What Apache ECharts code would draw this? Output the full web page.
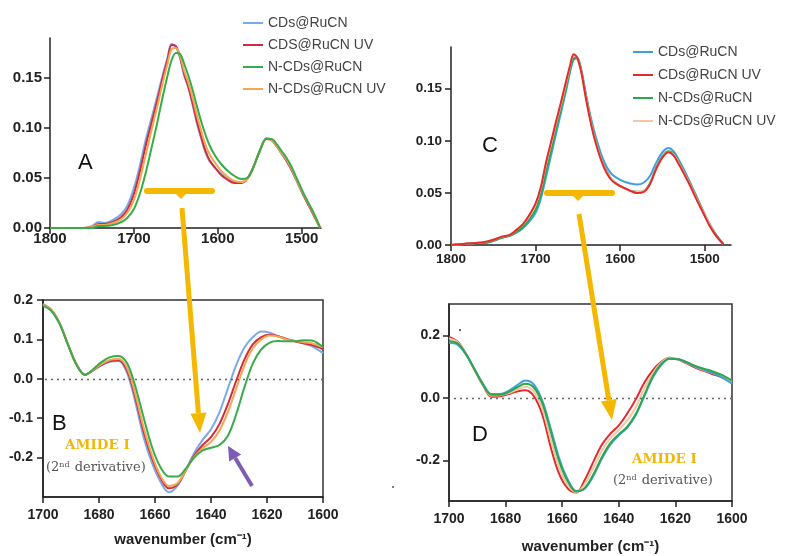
<!DOCTYPE html>
<html><head><meta charset="utf-8">
<script src="https://cdn.jsdelivr.net/npm/echarts@6/dist/echarts.min.js"></script>
<style>html,body{margin:0;padding:0;background:#fff}#c{width:790px;height:556px}</style>
</head><body><div id="c"></div>
<script>
// ---------- DATA ----------
const namesAB = ['CDs@RuCN', 'CDS@RuCN UV', 'N-CDs@RuCN', 'N-CDs@RuCN UV'];
const namesCD = ['CDs@RuCN', 'CDs@RuCN UV', 'N-CDs@RuCN', 'N-CDs@RuCN UV'];

const xTicksAC = [1800, 1700, 1600, 1500];
const yTicksAC = [0, 0.05, 0.10, 0.15];
const yTicksB = [0.2, 0.1, 0.0, -0.1, -0.2];
const yTicksD = [0.2, 0.0, -0.2];

// Panel A (absorbance)
const wnA = [1800,1780,1760,1750,1742,1735,1725,1715,1708,1700,1693,1686,1679,1672,1666,1660,1655,1650,1645,1640,1635,1630,1625,1620,1615,1610,1603,1596,1588,1580,1572,1565,1558,1550,1542,1536,1530,1524,1518,1512,1505,1498,1490,1484,1478];
const aBlue   = [0,0,0,0.002,0.006,0.005,0.008,0.014,0.022,0.040,0.062,0.088,0.110,0.132,0.152,0.170,0.184,0.181,0.170,0.152,0.140,0.123,0.105,0.090,0.076,0.067,0.060,0.054,0.049,0.046,0.045,0.049,0.060,0.077,0.090,0.088,0.082,0.074,0.067,0.058,0.045,0.033,0.020,0.010,0.000];
const aRed    = [0,0,0,0.001,0.004,0.004,0.006,0.011,0.018,0.034,0.056,0.082,0.105,0.128,0.149,0.168,0.183,0.182,0.171,0.154,0.141,0.125,0.107,0.092,0.078,0.068,0.060,0.053,0.048,0.045,0.045,0.049,0.060,0.077,0.089,0.088,0.082,0.075,0.067,0.058,0.046,0.033,0.020,0.010,0.000];
const aGreen  = [0,0,0,0.000,0.002,0.002,0.003,0.006,0.010,0.019,0.034,0.055,0.080,0.106,0.130,0.152,0.168,0.175,0.174,0.164,0.152,0.138,0.122,0.107,0.094,0.083,0.072,0.064,0.057,0.052,0.049,0.050,0.060,0.077,0.089,0.089,0.084,0.077,0.070,0.061,0.048,0.035,0.022,0.012,0.000];
const aOrange = [0,0,0,0.001,0.003,0.003,0.005,0.009,0.015,0.028,0.048,0.073,0.098,0.122,0.144,0.164,0.179,0.180,0.172,0.157,0.145,0.130,0.113,0.098,0.084,0.074,0.065,0.057,0.051,0.047,0.046,0.049,0.060,0.077,0.089,0.088,0.082,0.075,0.068,0.059,0.046,0.034,0.021,0.011,0.000];

// Panel B (2nd derivative)
const wnB = [1700,1697,1694,1691,1688,1685,1682,1679,1676,1673,1670,1667,1664,1661,1658,1655,1652,1649,1646,1643,1640,1637,1634,1631,1628,1625,1622,1619,1616,1613,1610,1607,1604,1600];
const bBlue   = [0.190,0.175,0.140,0.085,0.035,0.010,0.022,0.035,0.043,0.045,0.015,-0.060,-0.150,-0.215,-0.262,-0.288,-0.272,-0.232,-0.188,-0.155,-0.128,-0.085,-0.025,0.035,0.080,0.106,0.120,0.117,0.108,0.100,0.096,0.090,0.083,0.065];
const bRed    = [0.188,0.174,0.140,0.086,0.036,0.010,0.022,0.036,0.045,0.047,0.022,-0.048,-0.135,-0.203,-0.252,-0.278,-0.268,-0.232,-0.195,-0.168,-0.148,-0.115,-0.065,-0.005,0.050,0.088,0.106,0.112,0.108,0.101,0.095,0.090,0.086,0.075];
const bGreen  = [0.185,0.172,0.138,0.085,0.036,0.010,0.025,0.043,0.055,0.058,0.040,-0.020,-0.100,-0.175,-0.225,-0.248,-0.248,-0.228,-0.200,-0.182,-0.175,-0.168,-0.145,-0.090,-0.020,0.040,0.075,0.092,0.096,0.095,0.095,0.098,0.097,0.080];
const bOrange = [0.188,0.174,0.140,0.086,0.036,0.010,0.023,0.038,0.048,0.050,0.028,-0.040,-0.125,-0.195,-0.247,-0.272,-0.265,-0.232,-0.198,-0.176,-0.160,-0.132,-0.085,-0.025,0.035,0.078,0.100,0.110,0.107,0.100,0.096,0.093,0.090,0.080];

// Panel C (absorbance)
const wnC = [1800,1785,1770,1760,1750,1740,1730,1722,1715,1708,1700,1694,1688,1682,1676,1670,1664,1659,1655,1651,1646,1641,1636,1631,1626,1621,1616,1610,1603,1596,1588,1580,1572,1565,1558,1550,1543,1537,1531,1525,1518,1510,1502,1494,1486,1478];
const cBlue   = [0,0.001,0.002,0.002,0.004,0.007,0.009,0.012,0.016,0.022,0.031,0.044,0.064,0.085,0.106,0.127,0.148,0.167,0.178,0.179,0.168,0.147,0.127,0.110,0.096,0.084,0.075,0.068,0.064,0.061,0.059,0.058,0.060,0.066,0.078,0.089,0.093,0.090,0.082,0.073,0.061,0.047,0.033,0.020,0.009,0.001];
const cRed    = [0,0.001,0.002,0.003,0.005,0.008,0.010,0.015,0.020,0.028,0.040,0.055,0.078,0.098,0.118,0.137,0.157,0.173,0.183,0.180,0.166,0.143,0.122,0.104,0.090,0.078,0.069,0.062,0.058,0.055,0.052,0.050,0.051,0.058,0.072,0.084,0.089,0.086,0.078,0.069,0.058,0.044,0.031,0.018,0.008,0.001];
const cGreen  = [0,0.001,0.002,0.002,0.004,0.007,0.009,0.013,0.017,0.024,0.034,0.048,0.069,0.090,0.111,0.131,0.151,0.169,0.179,0.180,0.167,0.145,0.124,0.106,0.092,0.080,0.071,0.063,0.058,0.055,0.052,0.051,0.052,0.059,0.073,0.085,0.090,0.088,0.080,0.071,0.060,0.046,0.032,0.019,0.009,0.001];
const cOrange = [0,0.001,0.002,0.003,0.005,0.008,0.010,0.015,0.020,0.027,0.039,0.054,0.076,0.096,0.116,0.135,0.155,0.172,0.182,0.180,0.166,0.144,0.123,0.105,0.091,0.079,0.070,0.063,0.058,0.055,0.052,0.051,0.052,0.058,0.072,0.084,0.089,0.087,0.079,0.070,0.059,0.045,0.032,0.019,0.008,0.001];

// Panel D (2nd derivative)
const wnD = [1700,1697,1694,1691,1688,1685,1682,1679,1676,1673,1670,1667,1664,1661,1658,1655,1652,1649,1646,1643,1640,1637,1634,1631,1628,1625,1622,1619,1616,1613,1610,1607,1604,1600];
const dBlue   = [0.175,0.170,0.138,0.092,0.045,0.012,0.012,0.022,0.040,0.055,0.042,-0.010,-0.100,-0.195,-0.262,-0.298,-0.290,-0.250,-0.195,-0.150,-0.120,-0.095,-0.055,0.005,0.065,0.105,0.125,0.124,0.113,0.100,0.090,0.080,0.068,0.045];
const dRed    = [0.195,0.180,0.140,0.090,0.040,0.003,0.005,0.012,0.020,0.024,0.005,-0.055,-0.160,-0.245,-0.290,-0.303,-0.262,-0.205,-0.150,-0.115,-0.088,-0.050,-0.005,0.048,0.088,0.115,0.128,0.122,0.110,0.097,0.086,0.076,0.067,0.050];
const dGreen  = [0.182,0.174,0.140,0.091,0.043,0.010,0.010,0.018,0.033,0.045,0.033,-0.018,-0.110,-0.205,-0.268,-0.300,-0.288,-0.245,-0.190,-0.145,-0.117,-0.092,-0.052,0.008,0.068,0.108,0.125,0.123,0.114,0.102,0.093,0.085,0.075,0.055];
const dOrange = [0.190,0.178,0.140,0.090,0.042,0.007,0.008,0.015,0.026,0.035,0.020,-0.035,-0.135,-0.225,-0.280,-0.302,-0.275,-0.225,-0.170,-0.130,-0.103,-0.072,-0.030,0.028,0.078,0.112,0.127,0.123,0.112,0.100,0.089,0.080,0.070,0.052];

// ---------- STYLE ----------
const colAB = ['#79aaee', '#d42a3c', '#38ac4a', '#f4a650'];
const colCD = ['#3f9fe2', '#e5292d', '#2aa84a', '#f8c6a4'];
const FONT = '"Liberation Sans", Arial, sans-serif';
const SERIF = '"DejaVu Serif", "Liberation Serif", serif';
const INK = '#222';

function pairs(xs, ys) { return xs.map((x, i) => [x, ys[i]]); }

const axLine = { show: true, onZero: false, lineStyle: { color: INK, width: 1.5 } };
function tick(vals, len) {
  const t = { show: true, length: len, lineStyle: { color: INK, width: 1.5 } };
  if (vals) t.customValues = vals;
  return t;
}
function lbl(vals, dec, size, margin) {
  const l = { fontFamily: FONT, fontWeight: 'bold', fontSize: size, color: INK, margin,
    formatter: v => Number(v).toFixed(dec) };
  if (vals) l.customValues = vals;
  return l;
}
const nameStyle = { fontFamily: FONT, fontWeight: 'bold', fontSize: 15, color: INK };
const AXNAME = 'wavenumber (cm⁻¹)';

const grids = [
  { left: 50, top: 38, width: 271, height: 190, show: false },   // A
  { left: 43, top: 300, width: 280, height: 197, show: true, borderColor: '#333', borderWidth: 1.5 }, // B
  { left: 451, top: 47, width: 280, height: 198, show: false },  // C
  { left: 449, top: 304, width: 283, height: 197, show: true, borderColor: '#333', borderWidth: 1.5 } // D
].map(g => Object.assign(g, { containLabel: false, outerBoundsMode: 'none' }));

const xAxes = [
  { gridIndex: 0, type: 'value', inverse: true, min: 1477, max: 1800, axisLine: axLine, axisTick: tick(xTicksAC, 6), axisLabel: lbl(xTicksAC, 0, 15, 3), splitLine: { show: false } },
  { gridIndex: 1, type: 'value', inverse: true, min: 1600, max: 1700, interval: 20, axisLine: axLine, axisTick: tick(null, 6),
    axisLabel: lbl(null, 0, 14, 11), splitLine: { show: false },
    name: AXNAME, nameLocation: 'middle', nameGap: 35, nameTextStyle: nameStyle },
  { gridIndex: 2, type: 'value', inverse: true, min: 1469, max: 1800, axisLine: axLine, axisTick: tick(xTicksAC, 6), axisLabel: lbl(xTicksAC, 0, 13.5, 7), splitLine: { show: false } },
  { gridIndex: 3, type: 'value', inverse: true, min: 1600, max: 1700, interval: 20, axisLine: axLine, axisTick: tick(null, 6),
    axisLabel: lbl(null, 0, 14, 11), splitLine: { show: false },
    name: AXNAME, nameLocation: 'middle', nameGap: 38, nameTextStyle: nameStyle }
];
const yAxes = [
  { gridIndex: 0, type: 'value', min: 0, max: 0.19, axisLine: axLine, axisTick: tick(yTicksAC, 6), axisLabel: lbl(yTicksAC, 2, 15, 8), splitLine: { show: false } },
  { gridIndex: 1, type: 'value', min: -0.3, max: 0.2, axisLine: axLine, axisTick: tick(yTicksB, 6), axisLabel: lbl(yTicksB, 1, 14, 10), splitLine: { show: false } },
  { gridIndex: 2, type: 'value', min: 0, max: 0.19, axisLine: axLine, axisTick: tick(yTicksAC, 6), axisLabel: lbl(yTicksAC, 2, 13.5, 9), splitLine: { show: false } },
  { gridIndex: 3, type: 'value', min: -0.33, max: 0.3, axisLine: axLine, axisTick: tick(yTicksD, 6), axisLabel: lbl(yTicksD, 1, 14, 9), splitLine: { show: false } }
];

function line(name, idx, xs, ys, color, z) {
  return { name, type: 'line', xAxisIndex: idx, yAxisIndex: idx, data: pairs(xs, ys), smooth: 0.35,
    showSymbol: false, symbol: 'none', lineStyle: { color, width: 2 }, itemStyle: { color }, z: z || 2, silent: true };
}
const zeroLine = { silent: true, symbol: 'none', label: { show: false },
  lineStyle: { color: '#666', type: [2, 4], width: 1.3 }, data: [{ yAxis: 0 }] };

const series = [
  line(namesAB[0], 0, wnA, aBlue, colAB[0]),
  line(namesAB[1], 0, wnA, aRed, colAB[1]),
  line(namesAB[3], 0, wnA, aOrange, colAB[3]),
  line(namesAB[2], 0, wnA, aGreen, colAB[2], 3),
  Object.assign(line(namesAB[0], 1, wnB, bBlue, colAB[0]), { markLine: zeroLine }),
  line(namesAB[1], 1, wnB, bRed, colAB[1]),
  line(namesAB[3], 1, wnB, bOrange, colAB[3]),
  line(namesAB[2], 1, wnB, bGreen, colAB[2], 3),
  line(namesCD[0], 2, wnC, cBlue, colCD[0]),
  line(namesCD[2], 2, wnC, cGreen, colCD[2]),
  line(namesCD[3], 2, wnC, cOrange, colCD[3]),
  line(namesCD[1], 2, wnC, cRed, colCD[1], 3),
  Object.assign(line(namesCD[1], 3, wnD, dRed, colCD[1]), { markLine: zeroLine }),
  line(namesCD[3], 3, wnD, dOrange, colCD[3]),
  line(namesCD[0], 3, wnD, dBlue, colCD[0]),
  line(namesCD[2], 3, wnD, dGreen, colCD[2], 3)
];

function legend(names, cols, left, top, gap) {
  return { orient: 'vertical', left, top, padding: 0, itemWidth: 20, itemHeight: 2, itemGap: gap, icon: 'rect', selectedMode: false,
    textStyle: { fontFamily: FONT, fontSize: 14, color: '#444', lineHeight: 14, width: 127, overflow: 'truncate', ellipsis: '' },
    data: names.map((n, i) => ({ name: n, itemStyle: { color: cols[i] } })) };
}

const GOLD = '#f5b800';
function arrow(x1, y1, tx, ty, color, w, hl, hw) {
  const L = Math.hypot(tx - x1, ty - y1), ux = (tx - x1) / L, uy = (ty - y1) / L;
  const bx = tx - ux * hl, by = ty - uy * hl, px = -uy, py = ux;
  return [
    { type: 'line', shape: { x1, y1, x2: bx, y2: by }, style: { stroke: color, lineWidth: w }, z: 100 },
    { type: 'polygon', shape: { points: [[tx, ty], [bx + px * hw, by + py * hw], [bx - px * hw, by - py * hw]] }, style: { fill: color }, z: 100 }
  ];
}
function bracket(x1, x2, y, mid) {
  return [
    { type: 'line', shape: { x1, y1: y, x2, y2: y }, style: { stroke: GOLD, lineWidth: 6, lineCap: 'round' }, z: 100 },
    { type: 'polygon', shape: { points: [[mid - 6, y + 2], [mid + 6, y + 2], [mid, y + 8]] }, style: { fill: GOLD }, z: 100 }
  ];
}
function txt(x, y, t, style) {
  return { type: 'text', x, y, style: Object.assign({ text: t, textVerticalAlign: 'middle' }, style), z: 101 };
}
const letter = { fontFamily: FONT, fontSize: 22, fill: '#111' };
const amide = { fontFamily: SERIF, fontWeight: 'bold', fontSize: 13.5, fill: '#f2b705' };
const deriv = { fontFamily: SERIF, fontSize: 13, fill: '#555',
  rich: { s: { fontFamily: SERIF, fontSize: 8, fill: '#555', verticalAlign: 'top', padding: [0, 1, 6, 0] } } };

const graphic = [].concat(
  bracket(147, 212, 191, 181),
  arrow(182, 208, 200, 433, GOLD, 5, 20, 8),
  bracket(547, 612, 193, 578),
  arrow(579, 214, 612, 420, GOLD, 5, 20, 8),
  arrow(252, 486, 228, 446, '#7d5db3', 4, 14, 7),
  [
    txt(78, 163, 'A', letter), txt(52, 424, 'B', letter), txt(482, 146, 'C', letter), txt(472, 435, 'D', letter),
    txt(65, 445, 'AMIDE I', amide), txt(46, 468, '(2{s|nd} derivative)', deriv),
    txt(632, 459, 'AMIDE I', amide), txt(613, 481, '(2{s|nd} derivative)', deriv),
    { type: 'circle', shape: { cx: 460, cy: 330, r: 1 }, style: { fill: '#333' }, z: 100 },
    { type: 'circle', shape: { cx: 393, cy: 487, r: 1 }, style: { fill: '#555' }, z: 100 }
  ]
);

const chart = echarts.init(document.getElementById('c'), null, { renderer: 'canvas' });
chart.setOption({
  animation: false,
  backgroundColor: '#fff',
  grid: grids, xAxis: xAxes, yAxis: yAxes, series,
  legend: [legend(namesAB, colAB, 243, 16, 8), legend(namesCD, colCD, 633, 45, 9)],
  graphic
});
</script></body></html>
